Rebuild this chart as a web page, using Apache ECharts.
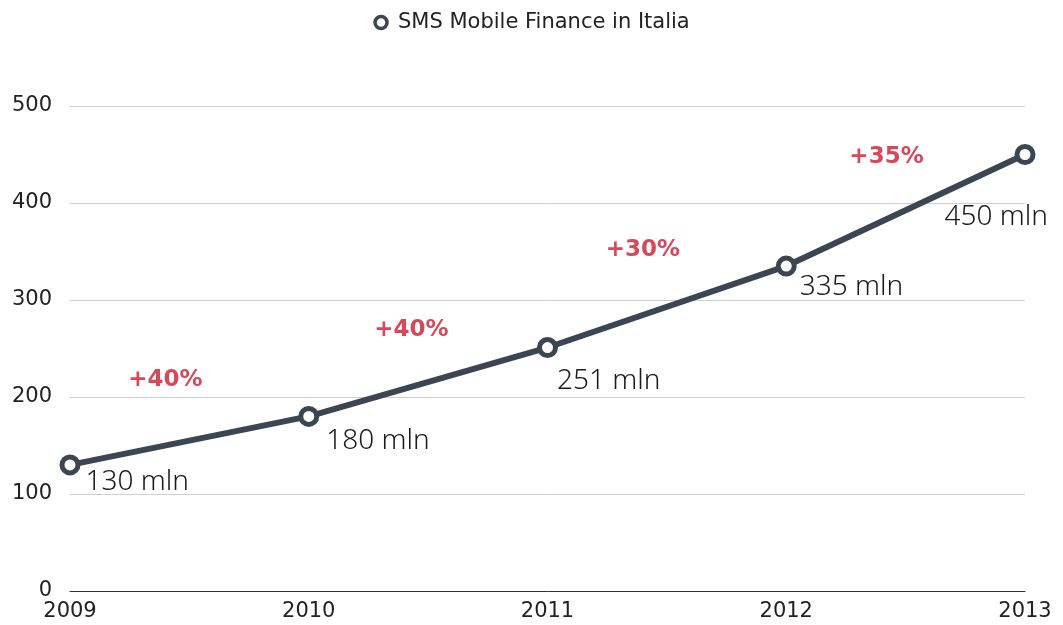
<!DOCTYPE html>
<html>
<head>
<meta charset="utf-8">
<script src="https://cdn.jsdelivr.net/npm/echarts@6/dist/echarts.min.js"></script>
<style>
  html, body { margin: 0; padding: 0; background: #fff; }
  #chart { width: 1063px; height: 625px; }
</style>
</head>
<body>
<div id="chart"></div>
<script>
const years = ['2009', '2010', '2011', '2012', '2013'];
const smsValues = [130, 180, 251, 335, 450];
const smsLabels = ['130 mln', '180 mln', '251 mln', '335 mln', '450 mln'];
const growthLabels = ['+40%', '+40%', '+30%', '+35%'];
// where each growth note sits: [x as year index, y value]
const growthAnchors = [[0.4, 217], [1.43, 269], [2.4, 352], [3.42, 447]];
const yTicks = [0, 100, 200, 300, 400, 500];

// label offsets next to each point
const labelOffsets = [[0, 17], [2, 25], [-6, 34], [-2, 21], [-96, 63]];

const chart = echarts.init(document.getElementById('chart'));

const lineData = smsValues.map((v, i) => ({
  value: [i, v],
  label: {
    show: true,
    position: 'right',
    offset: labelOffsets[i],
    formatter: smsLabels[i],
  },
}));

const growthData = growthAnchors.map((p, i) => ({
  value: p,
  label: { formatter: growthLabels[i] },
}));

const lineColor = '#3b4652';

chart.setOption({
  animation: false,
  textStyle: { fontFamily: 'DejaVu Sans' },
  legend: {
    top: 7,
    left: 'center',
    data: [{ name: 'SMS Mobile Finance in Italia', icon: 'circle' }],
    itemWidth: 12,
    itemHeight: 12,
    itemGap: 10,
    textStyle: { fontSize: 21, color: '#222', fontFamily: 'DejaVu Sans', padding: [0, 0, 0, 6] },
    itemStyle: { color: '#fff', borderColor: lineColor, borderWidth: 3.5 },
  },
  grid: { left: 70, right: 38, top: 106, bottom: 34, containLabel: false },
  xAxis: {
    type: 'value',
    min: 0,
    max: 4,
    interval: 1,
    splitLine: { show: false },
    axisLine: { show: true, lineStyle: { color: '#333', width: 1 } },
    axisTick: { show: false },
    axisLabel: {
      color: '#222',
      fontSize: 21,
      margin: 10,
      fontFamily: 'DejaVu Sans',
      formatter: v => years[v] || '',
    },
  },
  yAxis: {
    type: 'value',
    min: 0,
    max: 500,
    interval: 100,
    axisLine: { show: false },
    axisTick: { show: false },
    splitLine: { lineStyle: { color: '#cfcfcf', width: 1 } },
    axisLabel: {
      color: '#222',
      fontSize: 21,
      margin: 18,
      fontFamily: 'DejaVu Sans',
      formatter: v => yTicks.includes(v) ? String(v) : '',
    },
  },
  series: [
    {
      name: 'SMS Mobile Finance in Italia',
      type: 'line',
      data: lineData,
      symbol: 'circle',
      symbolSize: 16,
      lineStyle: { color: lineColor, width: 6 },
      itemStyle: { color: '#fff', borderColor: lineColor, borderWidth: 5 },
      label: {
        color: '#1a1a1a',
        fontSize: 28,
        fontWeight: 300,
        fontFamily: 'Noto Sans',
      },
      z: 3,
    },
    {
      name: 'growth',
      type: 'scatter',
      data: growthData,
      symbolSize: 0,
      silent: true,
      itemStyle: { opacity: 1 },
      label: {
        show: true,
        position: 'inside',
        color: '#d9475a',
        fontSize: 23,
        fontWeight: 'bold',
        fontFamily: 'DejaVu Sans',
      },
    },
  ],
});
</script>
</body>
</html>
